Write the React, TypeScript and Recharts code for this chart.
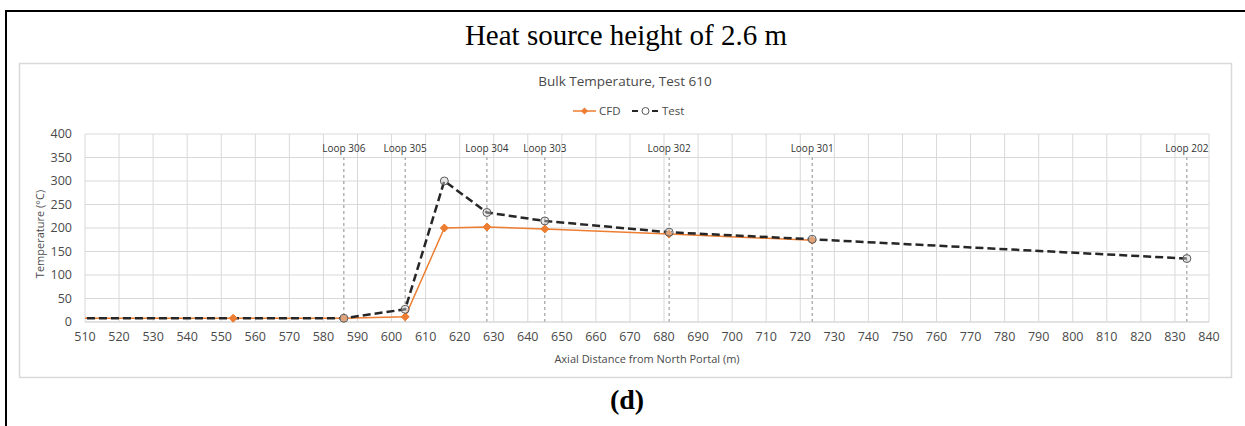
import React from "react";
import {
  LineChart,
  Line,
  XAxis,
  YAxis,
  CartesianGrid,
  ReferenceLine,
} from "recharts";

// Axial distance (m) and bulk temperature (°C) per series
const cfdDistance = [500, 553.5, 586, 604, 615.5, 628, 645, 681.5, 723.5];
const cfdTemp = [8, 8, 8, 11, 200, 202, 198, 187, 174];

const testDistance = [500, 586, 604, 615.5, 628, 645, 681.5, 723.5, 833.5];
const testTemp = [8, 8, 27, 300, 233, 215, 191, 176, 135];

// Thermocouple loop stations
const loopNames = ["Loop 306", "Loop 305", "Loop 304", "Loop 303", "Loop 302", "Loop 301", "Loop 202"];
const loopDistance = [586, 604, 628, 645, 681.5, 723.5, 833.5];
const loopTop = 350;

const xTicks = [
  510, 520, 530, 540, 550, 560, 570, 580, 590, 600, 610, 620, 630, 640, 650, 660, 670,
  680, 690, 700, 710, 720, 730, 740, 750, 760, 770, 780, 790, 800, 810, 820, 830, 840,
];
const yTicks = [0, 50, 100, 150, 200, 250, 300, 350, 400];

const cfdPoints = cfdDistance.map((x, i) => ({ x, t: cfdTemp[i] }));
const testPoints = testDistance.map((x, i) => ({ x, t: testTemp[i] }));

const FONT = "'Open Sans', 'Liberation Sans', sans-serif";
const ORANGE = "#ED7D31";
const TEXT = "#4a4a4a";

const Diamond = (props: any) => {
  const { cx, cy, index } = props;
  if (cx == null || cy == null) return <g key={`d-${index}`} />;
  const r = 4;
  return (
    <path
      key={`d-${index}`}
      d={`M${cx},${cy - r}L${cx + r},${cy}L${cx},${cy + r}L${cx - r},${cy}Z`}
      fill={ORANGE}
      stroke={ORANGE}
      strokeWidth={1}
    />
  );
};

const OpenCircle = (props: any) => {
  const { cx, cy, index } = props;
  if (cx == null || cy == null) return <g key={`c-${index}`} />;
  return (
    <circle
      key={`c-${index}`}
      cx={cx}
      cy={cy}
      r={4}
      fill="#d0d0d0"
      fillOpacity={0.45}
      stroke="#595959"
      strokeWidth={1}
    />
  );
};

export default function App() {
  return (
    <div style={{ position: "absolute", left: 0, top: 0, width: 1245, height: 426, background: "#fff" }}>
      <svg width={1245} height={426} style={{ position: "absolute", left: 0, top: 0 }}>
        {/* panel frame */}
        <line x1={6} y1={11} x2={1245} y2={11} stroke="#000" strokeWidth={2} />
        <line x1={6} y1={10} x2={6} y2={426} stroke="#000" strokeWidth={2} />
        <text
          x={626}
          y={45}
          textAnchor="middle"
          fontFamily="'Liberation Serif', 'Times New Roman', serif"
          fontSize={29}
          fill="#000"
        >
          Heat source height of 2.6 m
        </text>
        <text
          x={627}
          y={409}
          textAnchor="middle"
          fontFamily="'Liberation Serif', 'Times New Roman', serif"
          fontSize={28}
          fontWeight="bold"
          fill="#000"
        >
          (d)
        </text>

        {/* chart area border */}
        <rect x={19.5} y={63.5} width={1212} height={314} fill="none" stroke="#d9d9d9" strokeWidth={1.5} />

        {/* chart title */}
        <text x={625} y={86} textAnchor="middle" fontFamily={FONT} fontSize={13.5} fill={TEXT}>
          Bulk Temperature, Test 610
        </text>

        {/* legend */}
        <line x1={573} y1={111} x2={596} y2={111} stroke={ORANGE} strokeWidth={1.5} />
        <path d="M584.5,107.5L588,111L584.5,114.5L581,111Z" fill={ORANGE} />
        <text x={599} y={115} fontFamily={FONT} fontSize={11.5} fill={TEXT}>
          CFD
        </text>
        <line x1={632} y1={111} x2={659} y2={111} stroke="#262626" strokeWidth={2} strokeDasharray="6 4" />
        <circle cx={645.5} cy={111} r={3.5} fill="#fff" stroke="#595959" strokeWidth={1} />
        <text x={662} y={115} fontFamily={FONT} fontSize={11.5} fill={TEXT}>
          Test
        </text>

        {/* axis titles */}
        <text x={647} y={363} textAnchor="middle" fontFamily={FONT} fontSize={11} fill={TEXT}>
          Axial Distance from North Portal (m)
        </text>
        <text
          transform="translate(44,234) rotate(-90)"
          textAnchor="middle"
          fontFamily={FONT}
          fontSize={11}
          fill={TEXT}
        >
          Temperature (°C)
        </text>
      </svg>

      <div style={{ position: "absolute", left: 19, top: 63 }}>
        <LineChart width={1213} height={315} margin={{ top: 71, right: 23, bottom: 26, left: 10 }}>
          <CartesianGrid stroke="#d9d9d9" strokeWidth={1} />
          <XAxis
            type="number"
            dataKey="x"
            domain={[510, 840]}
            ticks={xTicks}
            allowDataOverflow
            interval={0}
            height={30}
            tickLine={false}
            tickMargin={4}
            axisLine={{ stroke: "#d9d9d9" }}
            tick={{ fontFamily: FONT, fontSize: 12.5, fill: TEXT }}
          />
          <YAxis
            type="number"
            domain={[0, 400]}
            ticks={yTicks}
            width={56}
            interval={0}
            tickLine={false}
            axisLine={false}
            tickMargin={7}
            tick={{ fontFamily: FONT, fontSize: 12.5, fill: TEXT }}
          />
          {loopDistance.map((x, i) => (
            <ReferenceLine
              key={loopNames[i]}
              segment={[
                { x, y: 0 },
                { x, y: loopTop },
              ]}
              stroke="#8c8c8c"
              strokeWidth={1}
              strokeDasharray="3 3"
              label={{
                value: loopNames[i],
                position: "top",
                offset: 6,
                fontFamily: FONT,
                fontSize: 10,
                fill: "#333333",
              }}
            />
          ))}
          <Line
            data={cfdPoints}
            dataKey="t"
            type="linear"
            stroke={ORANGE}
            strokeWidth={1.5}
            dot={Diamond}
            activeDot={false}
            isAnimationActive={false}
          />
          <Line
            data={testPoints}
            dataKey="t"
            type="linear"
            stroke="#262626"
            strokeWidth={2.5}
            strokeDasharray="8 4"
            dot={OpenCircle}
            activeDot={false}
            isAnimationActive={false}
          />
        </LineChart>
      </div>
    </div>
  );
}
